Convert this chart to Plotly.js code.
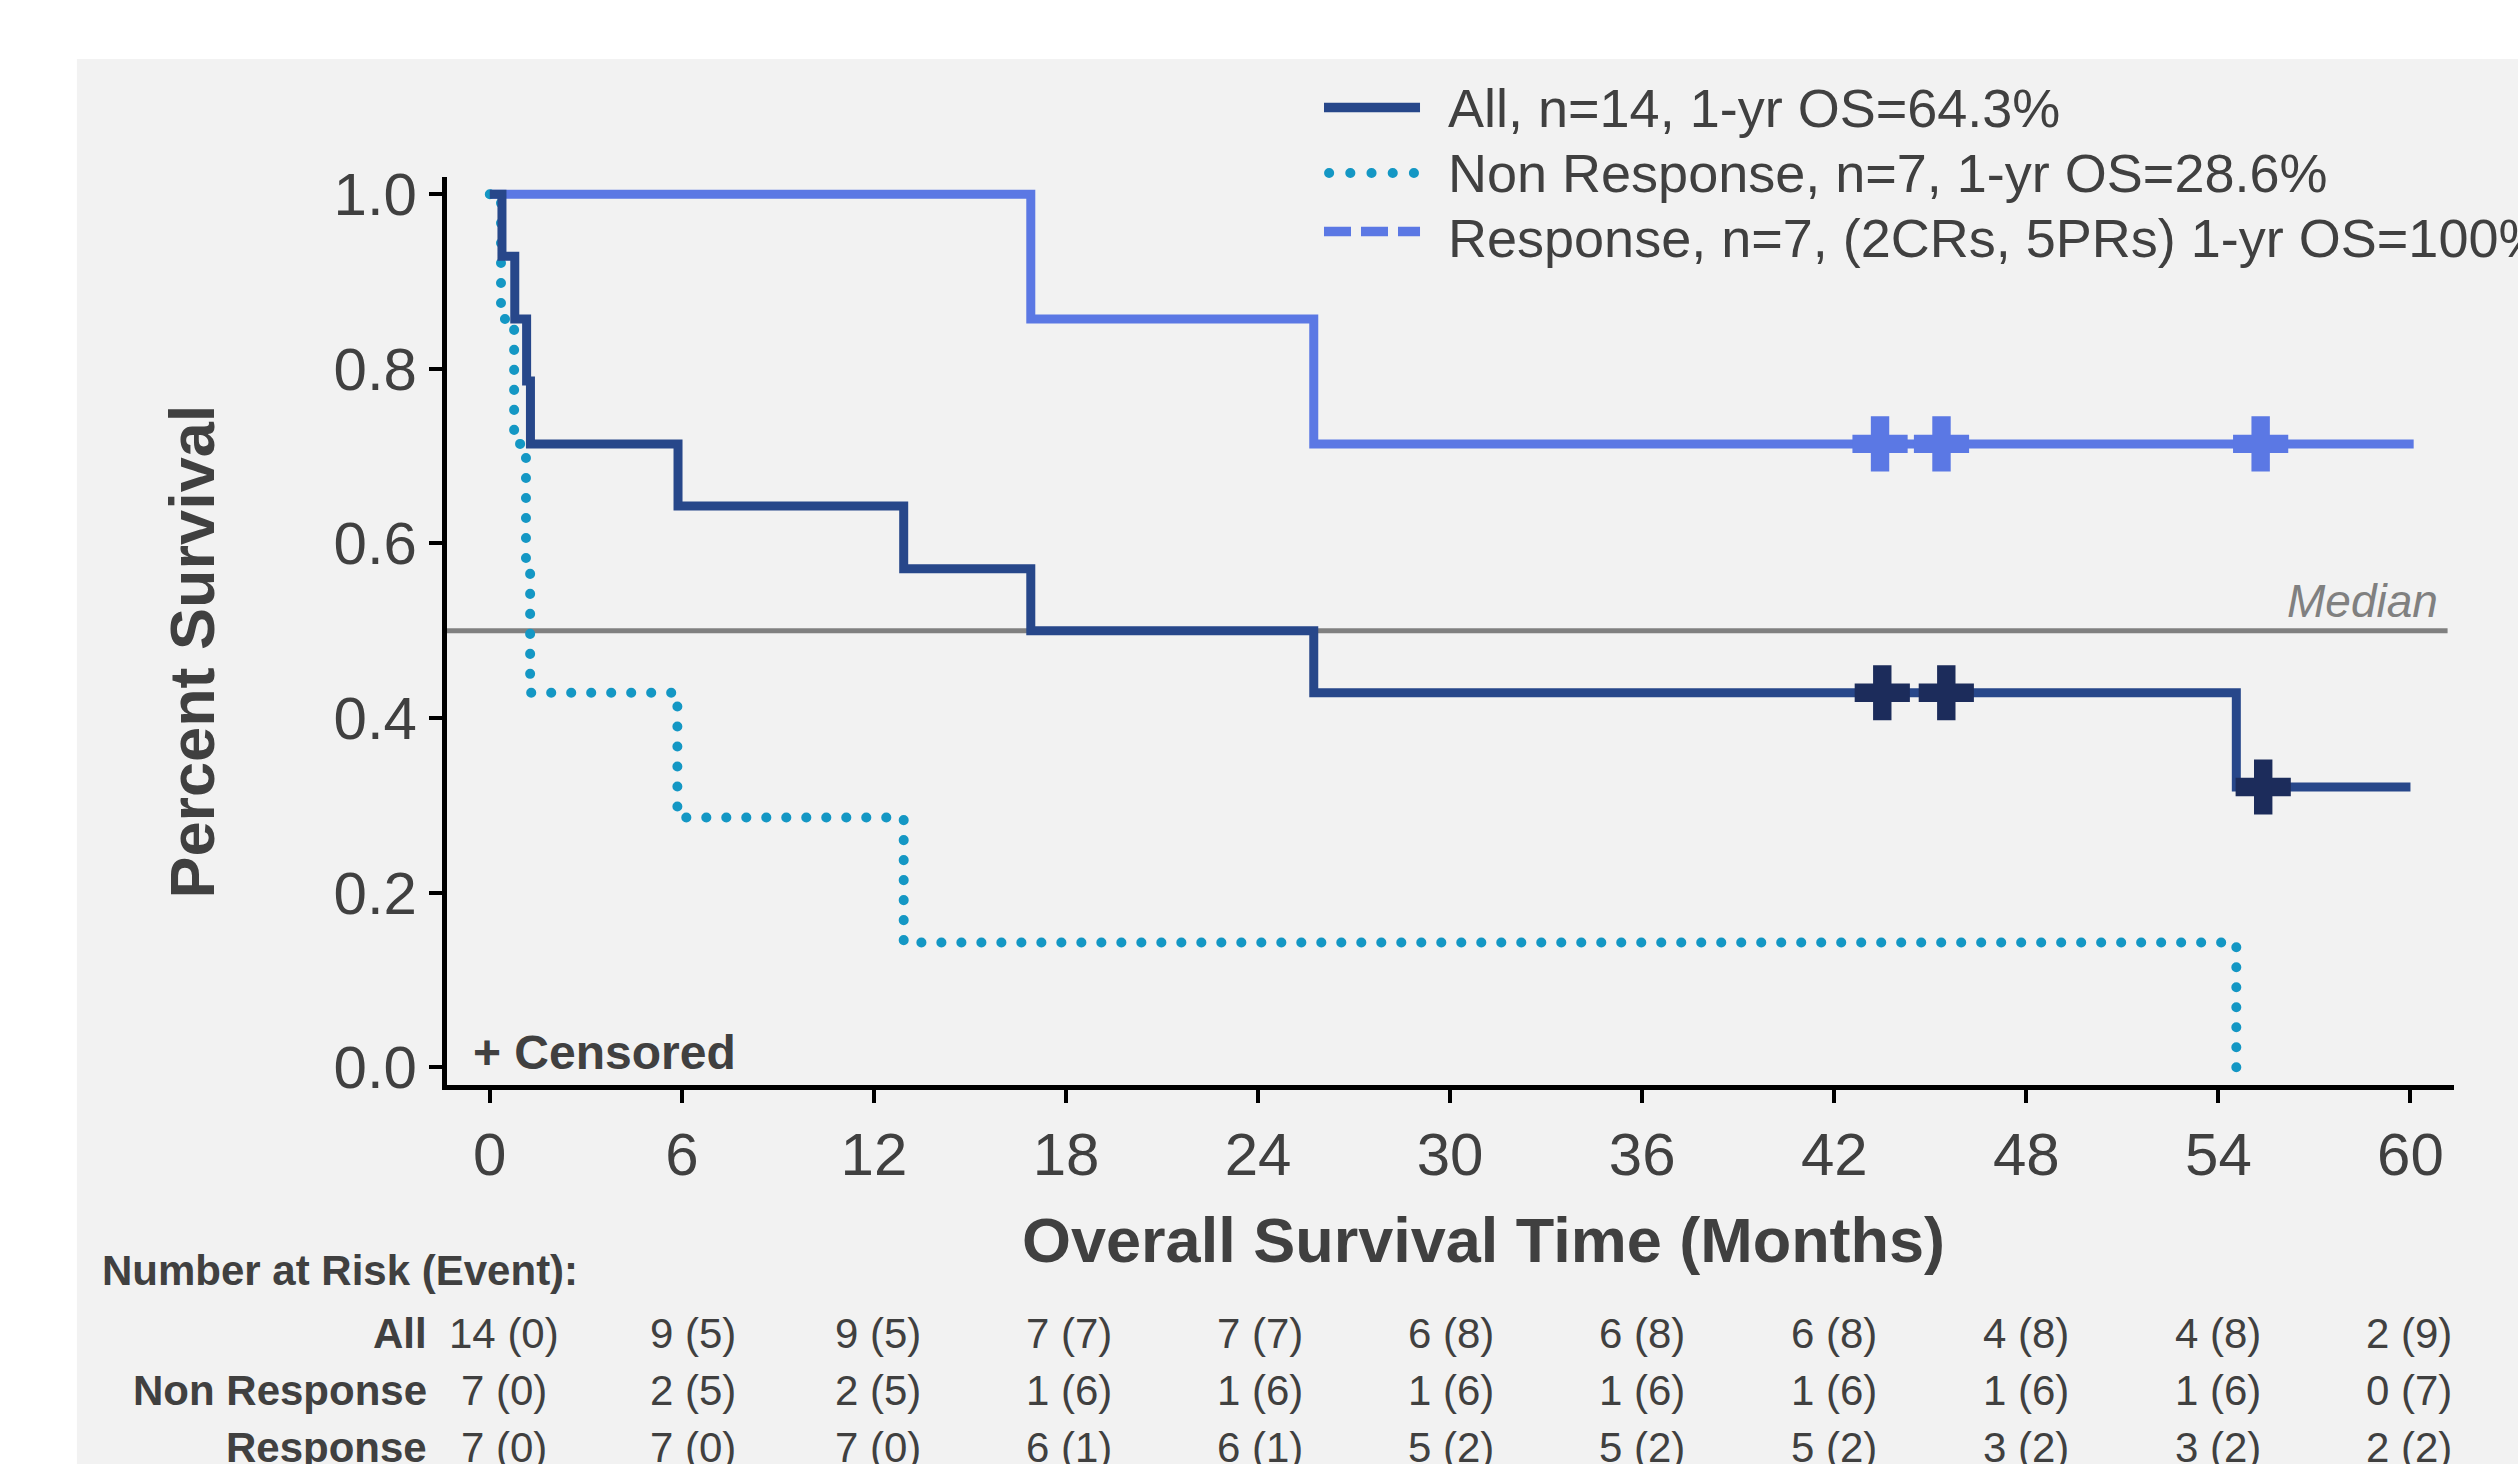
<!DOCTYPE html>
<html>
<head>
<meta charset="utf-8">
<script src="https://cdn.plot.ly/plotly-3.0.1.min.js"></script>
<style>
html, body { margin: 0; padding: 0; background: #ffffff; }
#chart { width: 2518px; height: 1464px; }
</style>
</head>
<body>
<div id="chart"></div>
<script>
// ---- Data ----
const allTimes  = [0, 0.38, 0.78, 1.15, 1.27, 5.88, 12.93, 16.9, 25.74, 54.56, 60.0];
const allSurv   = [1.0, 0.929, 0.857, 0.786, 0.714, 0.643, 0.571, 0.5, 0.429, 0.321, 0.321];
const nrTimes   = [0, 0.35, 0.76, 1.13, 1.26, 5.86, 12.93, 54.56];
const nrSurv    = [1.0, 0.857, 0.714, 0.571, 0.429, 0.286, 0.143, 0.0];
const respTimes = [0, 16.9, 25.74, 60.1];
const respSurv  = [1.0, 0.857, 0.714, 0.714];

const allCensT  = [43.5, 45.5, 55.4];
const allCensS  = [0.429, 0.429, 0.321];
const respCensT = [43.43, 45.35, 55.32];
const respCensS = [0.714, 0.714, 0.714];

const medianLevel = 0.5;

const xTicks = [0, 6, 12, 18, 24, 30, 36, 42, 48, 54, 60];
const yTicks = [0.0, 0.2, 0.4, 0.6, 0.8, 1.0];

const legendLabels = [
  "All, n=14, 1-yr OS=64.3%",
  "Non Response, n=7, 1-yr OS=28.6%",
  "Response, n=7, (2CRs, 5PRs) 1-yr OS=100%"
];

const riskTimes   = [0, 6, 12, 18, 24, 30, 36, 42, 48, 54, 60];
const riskGroups  = ["All", "Non Response", "Response"];
const atRiskAll   = [14, 9, 9, 7, 7, 6, 6, 6, 4, 4, 2];
const eventsAll   = [0, 5, 5, 7, 7, 8, 8, 8, 8, 8, 9];
const atRiskNR    = [7, 2, 2, 1, 1, 1, 1, 1, 1, 1, 0];
const eventsNR    = [0, 5, 5, 6, 6, 6, 6, 6, 6, 6, 7];
const atRiskResp  = [7, 7, 7, 6, 6, 5, 5, 5, 3, 3, 2];
const eventsResp  = [0, 0, 0, 1, 1, 2, 2, 2, 2, 2, 2];

// ---- Styles ----
const FONT = "Liberation Sans, Arial, Helvetica, sans-serif";
const TXT = "#404040";
const C_ALL = "#27478a";
const C_ALL_CENS = "#1c2c5b";
const C_NR = "#1497c4";
const C_RESP = "#5b78e4";
const DOT = "0.1px,19.9px";
const colShift = [14, 11, 4, 3, 2, 1, 0, 0, 0, 0, -1];

const traces = [
  { x: respTimes, y: respSurv, mode: "lines", line: { shape: "hv", color: C_RESP, width: 9 },
    showlegend: false, hoverinfo: "skip", cliponaxis: false },
  { x: nrTimes, y: nrSurv, mode: "lines", line: { shape: "hv", color: C_NR, width: 10, dash: DOT },
    showlegend: false, hoverinfo: "skip", cliponaxis: false },
  { x: allTimes, y: allSurv, mode: "lines", line: { shape: "hv", color: C_ALL, width: 9 },
    showlegend: false, hoverinfo: "skip", cliponaxis: false },
  { x: respCensT, y: respCensS, mode: "markers",
    marker: { symbol: "cross", size: 46, color: C_RESP, line: { width: 0 } },
    showlegend: false, hoverinfo: "skip", cliponaxis: false },
  { x: allCensT, y: allCensS, mode: "markers",
    marker: { symbol: "cross", size: 46, color: C_ALL_CENS, line: { width: 0 } },
    showlegend: false, hoverinfo: "skip", cliponaxis: false }
];

const annotations = [];
function ann(o) {
  annotations.push(Object.assign({ showarrow: false, font: { family: FONT, size: 42, color: TXT } }, o));
}

// Legend texts
const legTextY = [1.0760, 1.0044, 0.9328];
legendLabels.forEach((t, i) => ann({ text: t, xref: "paper", yref: "paper", x: 0.4978, y: legTextY[i],
  xanchor: "left", yanchor: "middle", font: { family: FONT, size: 54, color: TXT } }));

// Axis titles
ann({ text: "<b>Percent Survival</b>", xref: "paper", yref: "paper", x: -0.1271, y: 0.4773,
  textangle: -90, xanchor: "center", yanchor: "middle", font: { family: FONT, size: 63, color: TXT } });
ann({ text: "<b>Overall Survival Time (Months)</b>", xref: "paper", yref: "paper", x: 0.5162, y: -0.1702,
  xanchor: "center", yanchor: "middle", font: { family: FONT, size: 63, color: TXT } });

// Median label and censored note
ann({ text: "<i>Median</i>", xref: "x", yref: "y", x: 60.92, y: medianLevel, yshift: 2,
  xanchor: "right", yanchor: "bottom", font: { family: FONT, size: 46, color: "#808080" } });
ann({ text: "<b>+ Censored</b>", xref: "x", yref: "y", x: -0.59, y: 0.0175,
  xanchor: "left", yanchor: "middle", font: { family: FONT, size: 48, color: TXT } });

// Risk table
ann({ text: "<b>Number at Risk (Event):</b>", xref: "paper", yref: "paper", x: -0.1729, y: -0.2048,
  xanchor: "left", yanchor: "middle" });
const rowY = [-0.2742, -0.3370, -0.3987];
const riskData = [[atRiskAll, eventsAll], [atRiskNR, eventsNR], [atRiskResp, eventsResp]];
riskGroups.forEach((g, r) => {
  ann({ text: "<b>" + g + "</b>", xref: "paper", yref: "paper", x: -0.00897, y: rowY[r],
    xanchor: "right", yanchor: "middle" });
  riskTimes.forEach((t, i) => {
    ann({ text: riskData[r][0][i] + " (" + riskData[r][1][i] + ")", xref: "x", yref: "paper",
      x: t, y: rowY[r], xshift: colShift[i], xanchor: "center", yanchor: "middle" });
  });
});

const shapes = [
  // gray panel
  { type: "rect", xref: "paper", yref: "paper", x0: -0.1844, x1: 1.1, y0: -0.5, y1: 1.1300,
    fillcolor: "#f2f2f2", line: { width: 0 }, layer: "below" },
  // median line
  { type: "line", xref: "paper", yref: "y", x0: 0, x1: 0.9968, y0: medianLevel, y1: medianLevel,
    line: { color: "#808080", width: 5 }, layer: "below" },
  // legend samples
  { type: "line", xref: "paper", yref: "paper", x0: 0.43697, x1: 0.48481, y0: 1.0765, y1: 1.0765,
    line: { color: C_ALL, width: 9.5 } },
  { type: "line", xref: "paper", yref: "paper", x0: 0.4395, x1: 0.4818, y0: 1.0044, y1: 1.0044,
    line: { color: C_NR, width: 10, dash: DOT } },
  { type: "line", xref: "paper", yref: "paper", x0: 0.43697, x1: 0.48481, y0: 0.9400, y1: 0.9400,
    line: { color: C_RESP, width: 9.5, dash: "27px,10px" } }
];

const axisCommon = {
  showline: true, linecolor: "#000000", linewidth: 5,
  ticks: "outside", ticklen: 13, tickwidth: 4, tickcolor: "#000000",
  showgrid: false, zeroline: false, fixedrange: true,
  tickfont: { family: FONT, size: 60, color: TXT }
};

const layout = {
  width: 2518, height: 1464,
  margin: { l: 447, r: 64, t: 177, b: 379, pad: 0 },
  paper_bgcolor: "#ffffff",
  plot_bgcolor: "rgba(0,0,0,0)",
  font: { family: FONT, color: TXT },
  showlegend: false,
  xaxis: Object.assign({}, axisCommon, { range: [-1.337, 61.36], tickmode: "array", tickvals: xTicks }),
  yaxis: Object.assign({}, axisCommon, { range: [-0.0203, 1.0197], tickmode: "array", tickvals: yTicks, tickformat: ".1f" }),
  shapes: shapes,
  annotations: annotations
};

Plotly.newPlot("chart", traces, layout, { staticPlot: true, displayModeBar: false }).then(() => {
  document.querySelectorAll("#chart path").forEach(p => {
    const d = p.style.strokeDasharray || "";
    if (d.indexOf("0.1") !== -1) {
      p.style.strokeLinecap = "round";
      // spread the dots evenly so that the line starts and ends on a dot
      try {
        const L = p.getTotalLength();
        if (L > 1) {
          const n = Math.max(1, Math.round((L - 0.1) / 20));
          const step = (L - 0.1) / n;
          p.style.strokeDasharray = "0.1px," + (step - 0.1).toFixed(4) + "px";
        }
      } catch (e) {}
    }
  });
});
</script>
</body>
</html>
